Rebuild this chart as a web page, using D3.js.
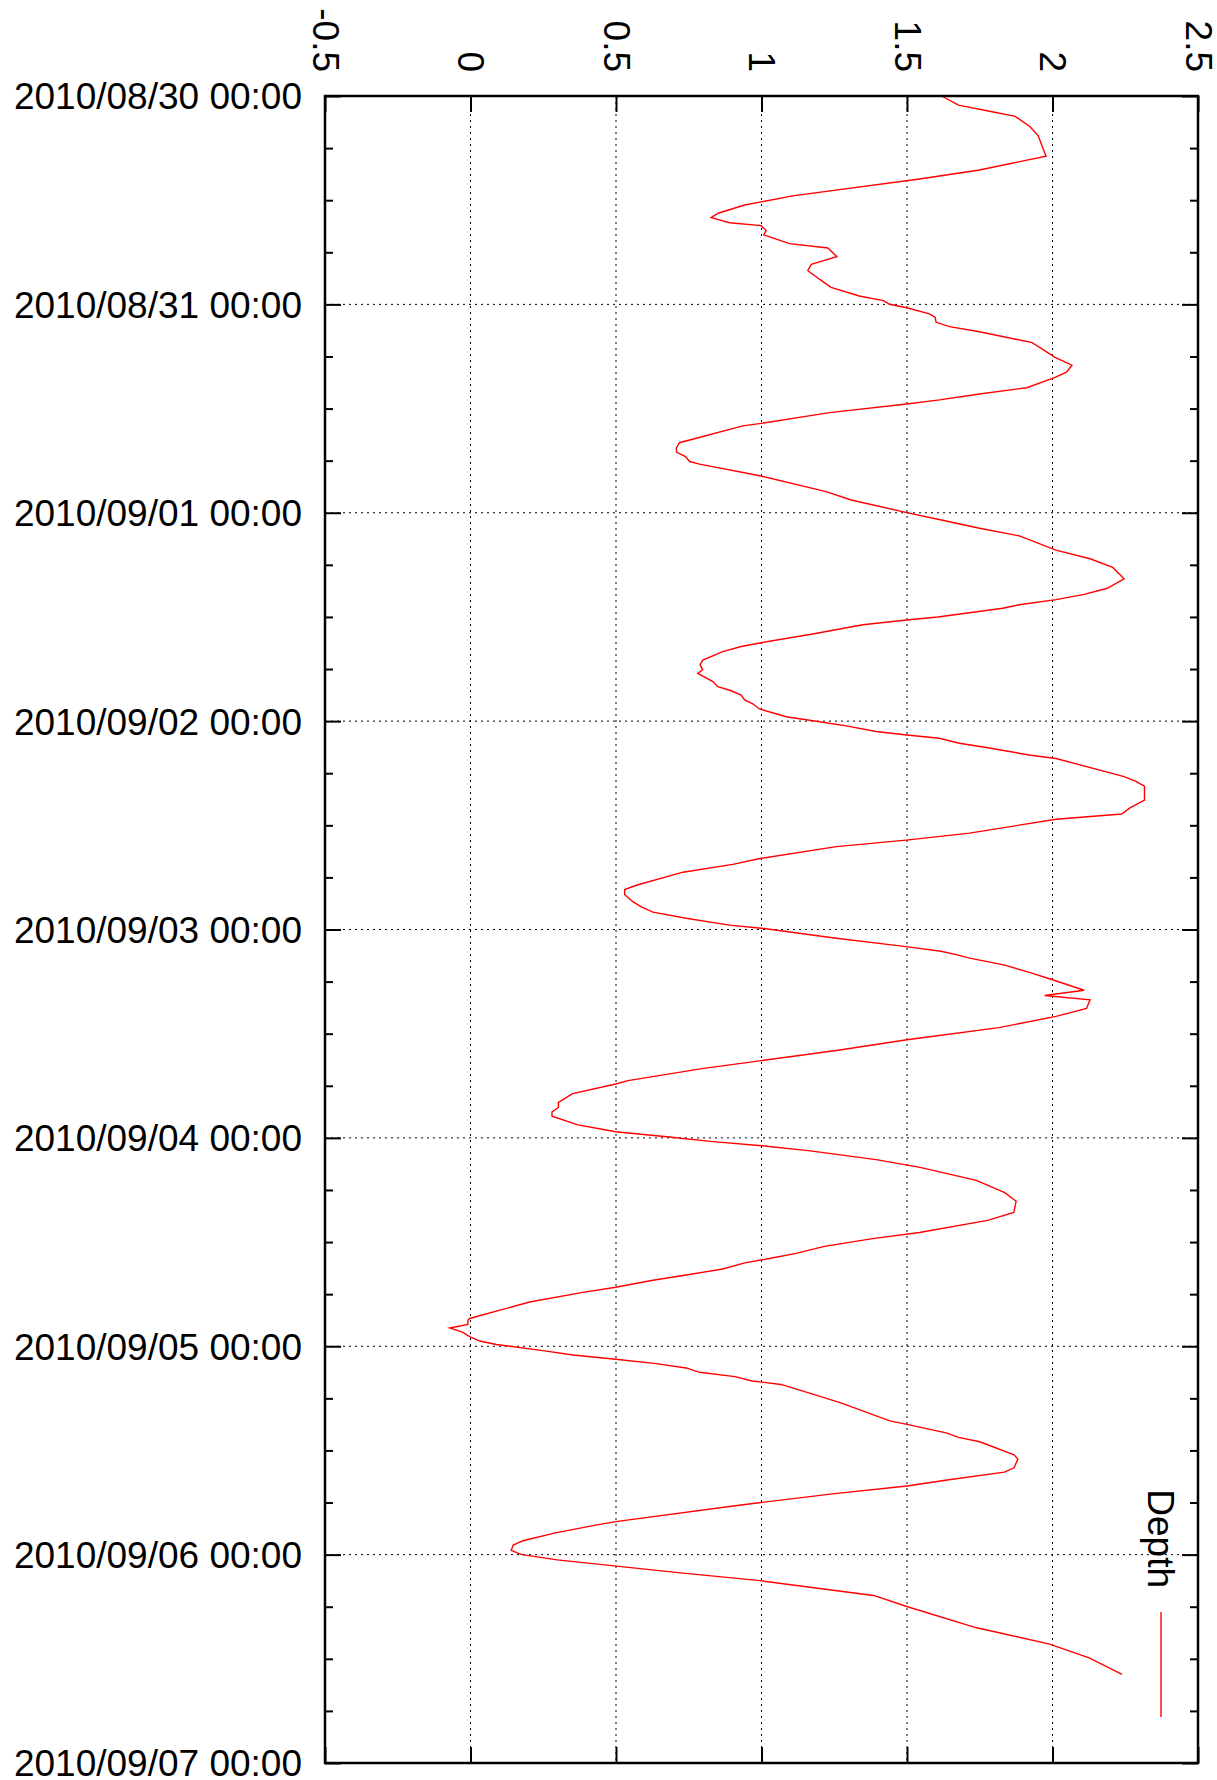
<!DOCTYPE html>
<html>
<head>
<meta charset="utf-8">
<script src="https://cdn.jsdelivr.net/npm/d3@7"></script>
<style>
  body { margin: 0; background: #fff; }
</style>
</head>
<body>
<svg id="chart" width="1217" height="1780"></svg>
<script>
// depth readings (m)
const times = [
  "2010-08-30 00:00","2010-08-30 01:03","2010-08-30 01:42","2010-08-30 02:21","2010-08-30 03:32","2010-08-30 04:35",
  "2010-08-30 06:17","2010-08-30 06:56","2010-08-30 08:31","2010-08-30 09:34","2010-08-30 11:30","2010-08-30 12:12",
  "2010-08-30 12:33","2010-08-30 13:30","2010-08-30 14:00","2010-08-30 14:36","2010-08-30 14:56","2010-08-30 15:30",
  "2010-08-30 16:00","2010-08-30 17:00","2010-08-30 17:30","2010-08-30 18:30","2010-08-30 19:24","2010-08-30 20:06",
  "2010-08-30 21:06","2010-08-30 22:02","2010-08-30 23:02","2010-08-30 23:34","2010-08-30 23:59",
  "2010-08-31 00:23","2010-08-31 01:06","2010-08-31 01:30","2010-08-31 02:04","2010-08-31 02:34","2010-08-31 03:09",
  "2010-08-31 04:24","2010-08-31 06:06","2010-08-31 07:00","2010-08-31 07:48","2010-08-31 08:24","2010-08-31 09:36",
  "2010-08-31 10:19","2010-08-31 11:00","2010-08-31 11:28","2010-08-31 12:28","2010-08-31 13:42","2010-08-31 14:00",
  "2010-08-31 15:56","2010-08-31 16:34","2010-08-31 17:02","2010-08-31 17:32","2010-08-31 18:06","2010-08-31 18:24",
  "2010-08-31 19:46","2010-08-31 21:34","2010-08-31 22:32","2010-08-31 23:59",
  "2010-09-01 00:57","2010-09-01 01:47","2010-09-01 02:40","2010-09-01 04:18","2010-09-01 05:18","2010-09-01 06:18",
  "2010-09-01 07:36","2010-09-01 08:42","2010-09-01 09:24","2010-09-01 10:00","2010-09-01 10:36","2010-09-01 11:00",
  "2010-09-01 12:00","2010-09-01 12:18","2010-09-01 12:54","2010-09-01 13:58","2010-09-01 14:58","2010-09-01 15:24",
  "2010-09-01 16:00","2010-09-01 16:58","2010-09-01 17:30","2010-09-01 18:06","2010-09-01 18:30","2010-09-01 19:27",
  "2010-09-01 20:02","2010-09-01 20:30","2010-09-01 21:00","2010-09-01 21:34","2010-09-01 22:00","2010-09-01 22:36",
  "2010-09-01 23:30",
  "2010-09-02 00:04","2010-09-02 00:33","2010-09-02 01:12","2010-09-02 01:36","2010-09-02 01:58","2010-09-02 02:33",
  "2010-09-02 03:06","2010-09-02 03:54","2010-09-02 04:18","2010-09-02 06:24","2010-09-02 06:54","2010-09-02 07:30",
  "2010-09-02 09:06","2010-09-02 10:00","2010-09-02 10:42","2010-09-02 11:18","2010-09-02 12:54","2010-09-02 13:42",
  "2010-09-02 14:27","2010-09-02 15:48","2010-09-02 16:30","2010-09-02 17:24","2010-09-02 18:54","2010-09-02 19:24",
  "2010-09-02 20:00","2010-09-02 20:48","2010-09-02 21:24","2010-09-02 22:00","2010-09-02 22:42","2010-09-02 23:30",
  "2010-09-02 23:51",
  "2010-09-03 01:00","2010-09-03 01:58","2010-09-03 02:30","2010-09-03 02:54","2010-09-03 03:18","2010-09-03 04:06",
  "2010-09-03 05:00","2010-09-03 05:42","2010-09-03 07:00","2010-09-03 07:36","2010-09-03 08:06","2010-09-03 09:06",
  "2010-09-03 10:00","2010-09-03 11:18","2010-09-03 12:30","2010-09-03 12:42","2010-09-03 13:54","2010-09-03 15:06",
  "2010-09-03 16:00","2010-09-03 17:24","2010-09-03 17:48","2010-09-03 18:54","2010-09-03 19:54","2010-09-03 20:30",
  "2010-09-03 21:00","2010-09-03 21:30","2010-09-03 22:30","2010-09-03 23:18","2010-09-03 23:54",
  "2010-09-04 00:24","2010-09-04 00:54","2010-09-04 01:30","2010-09-04 02:30","2010-09-04 03:24","2010-09-04 04:54",
  "2010-09-04 06:18","2010-09-04 07:18","2010-09-04 08:36","2010-09-04 09:30","2010-09-04 10:54","2010-09-04 11:36",
  "2010-09-04 12:30","2010-09-04 13:18","2010-09-04 13:54","2010-09-04 14:24","2010-09-04 15:06","2010-09-04 15:48",
  "2010-09-04 16:24","2010-09-04 17:12","2010-09-04 17:48","2010-09-04 18:54","2010-09-04 20:48","2010-09-04 21:00",
  "2010-09-04 21:30","2010-09-04 21:54","2010-09-04 22:24","2010-09-04 22:54","2010-09-04 23:24","2010-09-04 23:48",
  "2010-09-05 00:30","2010-09-05 01:00","2010-09-05 01:30","2010-09-05 02:00","2010-09-05 02:30","2010-09-05 03:00",
  "2010-09-05 03:30","2010-09-05 04:00","2010-09-05 04:24","2010-09-05 05:24","2010-09-05 06:30","2010-09-05 08:36",
  "2010-09-05 09:00","2010-09-05 10:00","2010-09-05 10:30","2010-09-05 11:00","2010-09-05 12:30","2010-09-05 13:00",
  "2010-09-05 14:00","2010-09-05 14:30","2010-09-05 15:24","2010-09-05 16:06","2010-09-05 17:00","2010-09-05 18:00",
  "2010-09-05 18:24","2010-09-05 20:12","2010-09-05 20:36","2010-09-05 21:30","2010-09-05 22:24","2010-09-05 22:54",
  "2010-09-05 23:30","2010-09-05 23:58",
  "2010-09-06 00:36","2010-09-06 02:06","2010-09-06 03:00","2010-09-06 04:42","2010-09-06 06:00","2010-09-06 08:24",
  "2010-09-06 10:18","2010-09-06 11:54","2010-09-06 13:48"
];
const depth = [
  1.619,1.677,1.775,1.872,1.923,1.951,
  1.970,1.978,1.749,1.543,1.107,0.999,
  0.942,0.851,0.827,0.890,0.999,1.016,
  1.008,1.096,1.228,1.259,1.171,1.159,
  1.199,1.239,1.336,1.419,1.440,
  1.499,1.577,1.597,1.600,1.646,1.749,
  1.930,2.009,2.067,2.048,2.009,1.912,
  1.749,1.612,1.499,1.234,0.999,0.936,
  0.718,0.707,0.709,0.739,0.753,0.787,
  0.999,1.222,1.308,1.499,
  1.634,1.749,1.886,2.012,2.129,2.207,
  2.246,2.188,2.109,2.012,1.886,1.829,
  1.606,1.515,1.348,1.176,0.999,0.930,
  0.867,0.798,0.789,0.798,0.781,0.833,
  0.850,0.896,0.930,0.942,0.970,0.993,
  1.085,
  1.199,1.291,1.394,1.499,1.611,1.680,
  1.783,1.920,2.012,2.246,2.285,2.316,
  2.316,2.266,2.238,2.012,1.715,1.497,
  1.257,0.999,0.901,0.730,0.570,0.530,
  0.530,0.558,0.587,0.627,0.741,0.890,
  0.999,
  1.257,1.497,1.617,1.669,1.715,1.836,
  1.926,1.992,2.109,1.973,2.129,2.117,
  2.012,1.816,1.545,1.500,1.263,1.000,
  0.801,0.541,0.499,0.351,0.302,0.302,
  0.280,0.280,0.369,0.499,0.683,
  0.825,1.000,1.168,1.394,1.545,1.738,
  1.836,1.875,1.867,1.777,1.543,1.382,
  1.216,1.119,1.027,0.942,0.867,0.741,
  0.627,0.499,0.386,0.203,-0.003,-0.009,
  -0.009,-0.071,-0.026,-0.003,0.032,0.089,
  0.249,0.352,0.499,0.638,0.741,0.787,
  0.909,0.968,1.067,1.165,1.270,1.441,
  1.500,1.638,1.677,1.750,1.868,1.881,
  1.868,1.835,1.638,1.500,1.244,0.998,
  0.903,0.499,0.430,0.292,0.180,0.147,
  0.140,0.173,
  0.298,0.722,0.995,1.385,1.502,1.736,
  1.990,2.126,2.239
];
const depthTicks = [-0.5, 0, 0.5, 1, 1.5, 2, 2.5];
const dayTicks = ["2010-08-30 00:00","2010-08-31 00:00","2010-09-01 00:00","2010-09-02 00:00",
  "2010-09-03 00:00","2010-09-04 00:00","2010-09-05 00:00","2010-09-06 00:00","2010-09-07 00:00"];
const seriesName = "Depth";

const plotL = 325, plotR = 1198, plotT = 96, plotB = 1763;
const font = "'Liberation Sans', Arial, sans-serif";
const fontSize = 37;

const parse = d3.timeParse("%Y-%m-%d %H:%M");
const data = times.map((t, i) => ({ t: parse(t), v: depth[i] }));
const days = dayTicks.map(parse);

const x = d3.scaleLinear().domain([-0.5, 2.5]).range([plotL, plotR]);
const y = d3.scaleTime().domain([days[0], days[days.length - 1]]).range([plotT, plotB]);
const minor = d3.timeHour.every(6).range(days[0], days[days.length - 1])
  .filter(d => d.getHours() !== 0);

const svg = d3.select("#chart");

// grid
const grid = svg.append("g")
  .attr("stroke", "#000")
  .attr("stroke-width", 1)
  .attr("stroke-dasharray", "2,4");
grid.selectAll(".gx").data(depthTicks.slice(1, -1)).join("line")
  .attr("x1", d => x(d)).attr("x2", d => x(d))
  .attr("y1", plotT).attr("y2", plotB);
grid.selectAll(".gy").data(days.slice(1, -1)).join("line")
  .attr("x1", plotL).attr("x2", plotR)
  .attr("y1", d => y(d)).attr("y2", d => y(d));

// axes (ticks point inward like gnuplot)
function style(g) {
  g.select(".domain").remove();
  g.selectAll(".tick line").attr("stroke", "#000").attr("stroke-width", 2);
  g.attr("font-family", font).attr("font-size", fontSize);
  g.selectAll("text").attr("fill", "#000");
}

svg.append("g")
  .attr("transform", `translate(0,${plotT})`)
  .call(d3.axisTop(x).tickValues(depthTicks).tickFormat(d => String(d)).tickSizeInner(-16).tickSizeOuter(0))
  .call(style)
  .call(g => g.selectAll("text")
    .attr("y", 0).attr("dy", "0.35em")
    .attr("text-anchor", "end")
    .attr("transform", "translate(0,-24) rotate(90)"));

svg.append("g")
  .attr("transform", `translate(0,${plotB})`)
  .call(d3.axisBottom(x).tickValues(depthTicks).tickFormat("").tickSizeInner(-16).tickSizeOuter(0))
  .call(style);

svg.append("g")
  .attr("transform", `translate(${plotL},0)`)
  .call(d3.axisLeft(y).tickValues(days).tickFormat(d3.timeFormat("%Y/%m/%d %H:%M")).tickSizeInner(-16).tickSizeOuter(0))
  .call(style)
  .call(g => g.selectAll("text").attr("x", -23).attr("dy", "0.35em").attr("text-anchor", "end"));

svg.append("g")
  .attr("transform", `translate(${plotL},0)`)
  .call(d3.axisLeft(y).tickValues(minor).tickFormat("").tickSizeInner(-8).tickSizeOuter(0))
  .call(style);

svg.append("g")
  .attr("transform", `translate(${plotR},0)`)
  .call(d3.axisRight(y).tickValues(days).tickFormat("").tickSizeInner(-16).tickSizeOuter(0))
  .call(style);

svg.append("g")
  .attr("transform", `translate(${plotR},0)`)
  .call(d3.axisRight(y).tickValues(minor).tickFormat("").tickSizeInner(-8).tickSizeOuter(0))
  .call(style);

// series
const line = d3.line().x(d => x(d.v)).y(d => y(d.t));
svg.append("path")
  .datum(data)
  .attr("fill", "none")
  .attr("stroke", "#ff0000")
  .attr("stroke-width", 1.4)
  .attr("d", line);

// frame
svg.append("rect")
  .attr("x", plotL).attr("y", plotT)
  .attr("width", plotR - plotL).attr("height", plotB - plotT)
  .attr("fill", "none").attr("stroke", "#000").attr("stroke-width", 2.5);

// key, rotated with the rest of the plot
const keyX = 1161;
svg.append("text")
  .attr("font-family", font).attr("font-size", fontSize)
  .attr("text-anchor", "end").attr("dy", "0.35em")
  .attr("transform", `translate(${keyX},1588) rotate(90)`)
  .text(seriesName);
svg.append("line")
  .attr("x1", keyX).attr("x2", keyX)
  .attr("y1", 1612).attr("y2", 1717)
  .attr("stroke", "#ff0000").attr("stroke-width", 1.4);
</script>
</body>
</html>
